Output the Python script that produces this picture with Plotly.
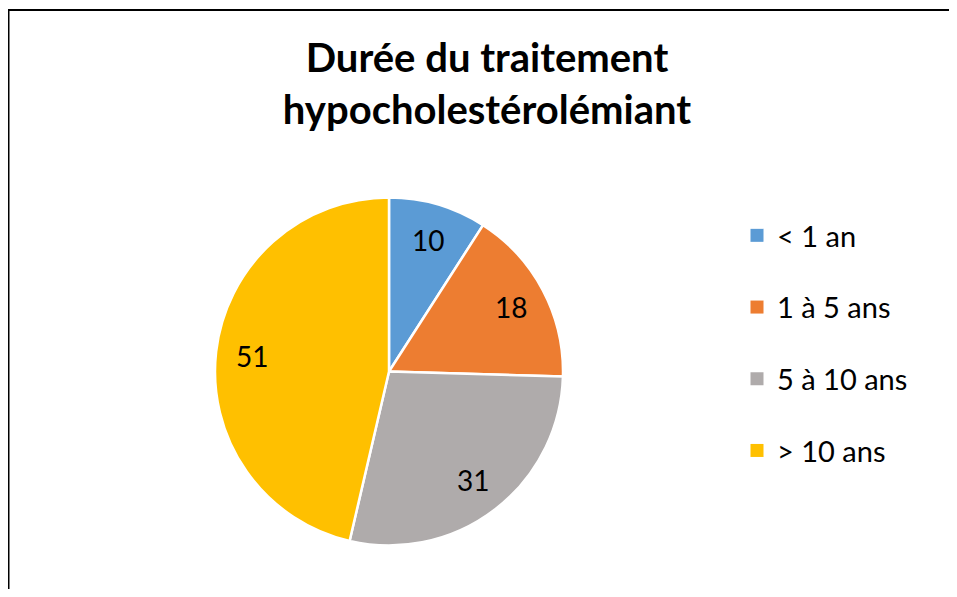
import math

import plotly.graph_objects as go

TITLE = "Durée du traitement<br>hypocholestérolémiant"
CATEGORIES = ["< 1 an", "1 à 5 ans", "5 à 10 ans", "> 10 ans"]
VALUES = [10, 18, 31, 51]
COLORS = ["#5B9BD5", "#ED7D31", "#AFABAB", "#FFC000"]

# the page body keeps its 8px margin on every side, so the figure is shrunk to fit the window
OFFSET = 8
W, H = 957 - 2 * OFFSET, 597 - 2 * OFFSET
FONT = "Lato, 'Open Sans', sans-serif"


def px_x(x):
    return (x - OFFSET) / W


def px_y(y):
    return 1 - (y - OFFSET) / H


# pie geometry in window pixels
CX, CY, R = 389, 371.5, 174
LABEL_R = 0.79

fig = go.Figure()
fig.add_trace(
    go.Pie(
        labels=CATEGORIES,
        values=VALUES,
        sort=False,
        direction="clockwise",
        rotation=0,
        marker=dict(colors=COLORS, line=dict(color="white", width=2.5)),
        textinfo="none",
        hoverinfo="label+value",
        showlegend=False,
        domain=dict(x=[px_x(CX - R), px_x(CX + R)], y=[px_y(CY + R), px_y(CY - R)]),
    )
)

# legend entries, one group each so the gap can be set
for name, color in zip(CATEGORIES, COLORS):
    fig.add_trace(
        go.Scatter(
            x=[None], y=[None], mode="markers", name=name, legendgroup=name,
            marker=dict(symbol="square", size=13, color=color),
        )
    )

# data labels placed along the slice bisectors
total = sum(VALUES)
start = 0.0
for value in VALUES:
    mid = (start + value / 2) / total * 2 * math.pi
    lx = CX + LABEL_R * R * math.sin(mid)
    ly = CY - LABEL_R * R * math.cos(mid)
    fig.add_annotation(
        x=px_x(lx), y=px_y(ly), xref="paper", yref="paper", xanchor="center", yanchor="middle",
        text=str(value), showarrow=False, font=dict(size=28, color="black", family=FONT),
    )
    start += value

# chart frame (only top and left edges are in view)
fig.add_shape(type="line", xref="paper", yref="paper", x0=0, x1=1, y0=px_y(10), y1=px_y(10),
              line=dict(color="black", width=2))
fig.add_shape(type="line", xref="paper", yref="paper", x0=px_x(8.5), x1=px_x(8.5), y0=px_y(10), y1=0,
              line=dict(color="black", width=2))

fig.update_layout(
    width=W,
    height=H,
    margin=dict(l=0, r=0, t=0, b=0),
    paper_bgcolor="white",
    plot_bgcolor="rgba(0,0,0,0)",
    title=dict(
        text=TITLE, x=px_x(487), xanchor="center", y=px_y(72), yanchor="top",
        font=dict(size=40, color="black", family=FONT, weight="bold"),
    ),
    # the empty cartesian area only carries the legend entries; keep it tucked under the frame
    xaxis=dict(visible=False, domain=[0, px_x(8.5)]),
    yaxis=dict(visible=False, domain=[0, px_y(10)]),
    legend=dict(
        x=px_x(737), y=px_y(210), xanchor="left", yanchor="top",
        font=dict(size=29, color="black", family=FONT),
        tracegroupgap=31, itemwidth=30, bgcolor="rgba(0,0,0,0)",
    ),
)

fig.write_html("out.html")
